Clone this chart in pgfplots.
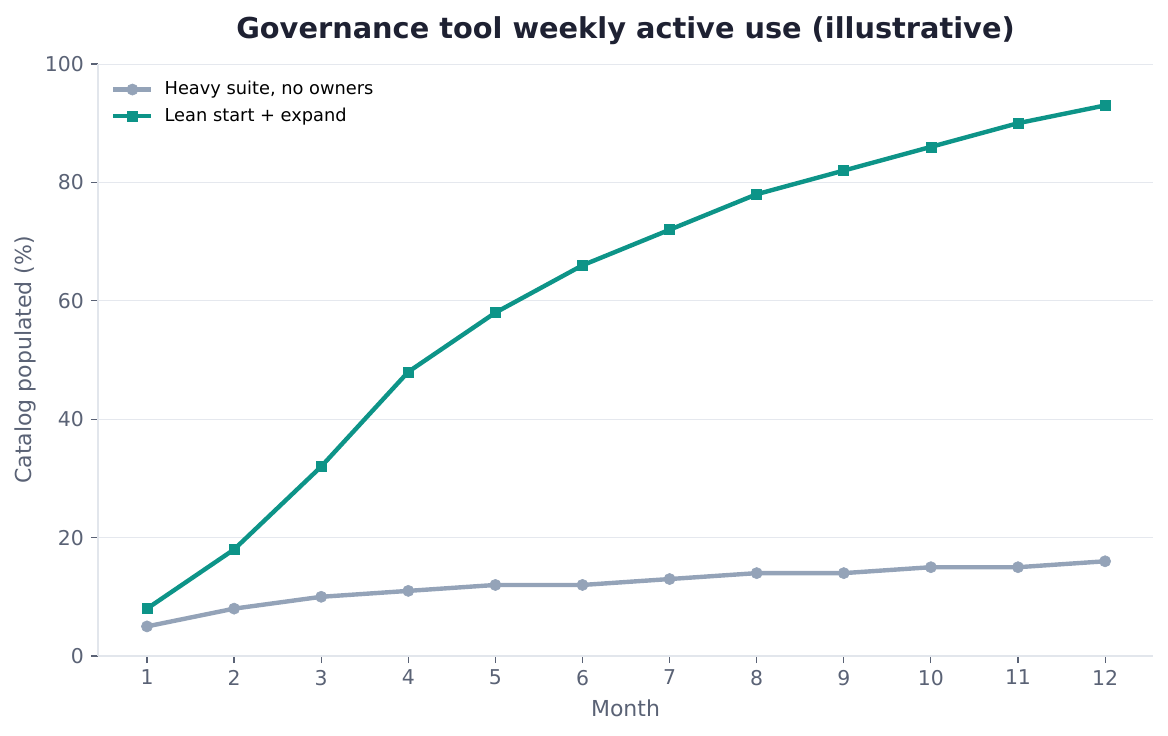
\documentclass[border=0pt]{standalone}
\usepackage{pgfplots}
\pgfplotsset{compat=1.18}
\usepackage{fontspec}
\setmainfont{DejaVu Sans}
\definecolor{teal}{HTML}{0D9488}
\definecolor{slate}{HTML}{94A3B8}
\definecolor{titlec}{HTML}{1E2132}
\definecolor{labc}{HTML}{5A6275}
\definecolor{spinec}{HTML}{E2E6EC}
\definecolor{gridc}{HTML}{E5E8EE}
\begin{document}
\begin{tikzpicture}
\begin{axis}[
  at={(0,0)}, anchor=south west,
  scale only axis,
  width=527.5pt, height=296pt,
  xmin=0.4375, xmax=12.55,
  ymin=0, ymax=100,
  xtick={1,...,12},
  ytick={0,20,40,60,80,100},
  /pgf/number format/assume math mode=true,
  ticklabel style={font=\fontsize{10.2}{12}\selectfont, text=labc},
  tick style={draw=labc, line width=0.6pt},
  tick align=outside,
  major tick length=3.5pt,
  xtick pos=bottom, ytick pos=left,
  axis x line*=bottom, axis y line*=left,
  axis line style={draw=spinec, line width=0.7pt, -},
  ymajorgrids=true,
  grid style={draw=gridc, line width=0.5pt},
  xlabel={Month}, ylabel={Catalog populated (\%)},
  label style={font=\fontsize{11}{13}\selectfont, text=labc},
  xlabel style={yshift=-0.5pt},
  ylabel style={yshift=-2.5pt},
  title={\textbf{Governance tool weekly active use (illustrative)}},
  title style={font=\fontsize{14.4}{16}\selectfont, text=titlec, yshift=0pt},
  legend style={at={(0.015,0.985)}, anchor=north west, draw=none, fill=none,
    xshift=-3.5pt,
    font=\fontsize{8.9}{10}\selectfont, row sep=1pt, inner sep=2pt,
    /tikz/every odd column/.append style={column sep=3.5pt}},
  legend cell align=left,
  legend image code/.code={\draw[mark repeat=2,mark phase=2,#1] plot coordinates {(0pt,0pt) (9.5pt,0pt) (19pt,0pt)};},
]
\addplot[slate, line width=2.2pt, mark=*, mark size=2.8pt, mark options={fill=slate, draw=slate, line width=0.3pt}]
  coordinates {(1,5) (2,8) (3,10) (4,11) (5,12) (6,12) (7,13) (8,14) (9,14) (10,15) (11,15) (12,16)};
\addlegendentry{Heavy suite, no owners}
\addplot[teal, line width=2.2pt, mark=square*, mark size=2.5pt, mark options={fill=teal, draw=teal, line width=0.3pt}]
  coordinates {(1,8) (2,18) (3,32) (4,48) (5,58) (6,66) (7,72) (8,78) (9,82) (10,86) (11,90) (12,93)};
\addlegendentry{Lean start + expand}
\end{axis}
\path[use as bounding box] (-49pt,-39.5pt) rectangle (535pt,328pt);
\end{tikzpicture}
\end{document}
